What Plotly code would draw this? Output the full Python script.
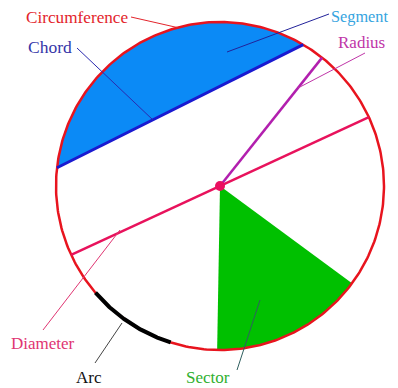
import numpy as np
import plotly.graph_objects as go

# ---- data (angles in degrees, radius units) ----
circle_radius = 1.0
chord_angles = [59.5, 173.6]        # chord endpoints; segment lies between them
sector_angles = [-91.0, -36.4]      # sector from/to
diameter_angle = [24.8, 204.8]
radius_angle = [51.5]
arc_angles = [220.6, 252.5]
circumference_label_angle = [105.0]

label_texts = ["Circumference", "Chord", "Segment", "Radius", "Diameter", "Arc", "Sector"]
label_colors = ["#e3242b", "#3535a8", "#35a4e0", "#c036a8", "#e03572", "#111111", "#30b030"]
label_sizes = [17.2, 17.5, 16.3, 17, 17, 17, 17]

# pixel layout helpers (reference pixel coords; page body has an 8px margin)
OFF = 8
W, H = 398 - OFF, 388 - OFF
CX, CY, S = 220.0, 186.0, 164.0


def px(x, y):
    return (x - CX) / S, (CY - y) / S


def pt(a, r=circle_radius):
    t = np.deg2rad(a)
    return r * np.cos(t), r * np.sin(t)


def arc_pts(a0, a1, n=200):
    t = np.deg2rad(np.linspace(a0, a1, n))
    return circle_radius * np.cos(t), circle_radius * np.sin(t)


fig = go.Figure()

# Segment fill
sx, sy = arc_pts(chord_angles[0], chord_angles[1])
fig.add_trace(go.Scatter(x=np.append(sx, sx[0]), y=np.append(sy, sy[0]), mode="lines",
                         fill="toself", fillcolor="#0b8af6", line=dict(width=0),
                         hoverinfo="skip"))
# Sector fill
ax_, ay_ = arc_pts(sector_angles[0], sector_angles[1])
fig.add_trace(go.Scatter(x=np.concatenate([[0], ax_, [0]]), y=np.concatenate([[0], ay_, [0]]),
                         mode="lines", fill="toself", fillcolor="#00c000",
                         line=dict(width=0), hoverinfo="skip"))
# Circumference
cx_, cy_ = arc_pts(0, 360, 400)
fig.add_trace(go.Scatter(x=cx_, y=cy_, mode="lines", line=dict(color="#e8141e", width=2.5),
                         hoverinfo="skip"))
# Chord
c0, c1 = pt(chord_angles[0]), pt(chord_angles[1])
fig.add_trace(go.Scatter(x=[c0[0], c1[0]], y=[c0[1], c1[1]], mode="lines",
                         line=dict(color="#1a1ad0", width=3), hoverinfo="skip"))
# Diameter
d0, d1 = pt(diameter_angle[0]), pt(diameter_angle[1])
fig.add_trace(go.Scatter(x=[d0[0], d1[0]], y=[d0[1], d1[1]], mode="lines",
                         line=dict(color="#e8125c", width=2.5), hoverinfo="skip"))
# Radius
r0 = pt(radius_angle[0])
fig.add_trace(go.Scatter(x=[0, r0[0]], y=[0, r0[1]], mode="lines",
                         line=dict(color="#b21fae", width=2.5), hoverinfo="skip"))
# Arc
bx, by = arc_pts(arc_angles[0], arc_angles[1])
fig.add_trace(go.Scatter(x=bx, y=by, mode="lines", line=dict(color="black", width=4),
                         hoverinfo="skip"))
# Centre dot
fig.add_trace(go.Scatter(x=[0], y=[0], mode="markers",
                         marker=dict(color="#ea1060", size=10), hoverinfo="skip"))

# Labels: (text centre in px, leader start px, leader end px)
ce = pt(circumference_label_angle[0])
ce_px = (CX + ce[0] * S, CY - ce[1] * S)
label_pos = [(77, 17), (50, 47), (359, 16), (361, 42), (43, 343), (89, 377), (208, 377)]
leaders = [((131, 17), ce_px), ((77, 48), (153, 120)), ((329, 14), (227, 52)),
           ((365, 53), (298, 88)), ((43, 330), (120, 230)), ((95, 363), (122, 323)),
           ((237, 370), (260, 300))]
leader_colors = ["#e3242b", "#2a2ab0", "#22229a", "#c036a8", "#e03572", "#444444", "#2f5f5f"]

for (p0, p1), col in zip(leaders, leader_colors):
    a = px(*p0)
    b = px(*p1)
    fig.add_trace(go.Scatter(x=[a[0], b[0]], y=[a[1], b[1]], mode="lines",
                             line=dict(color=col, width=1), hoverinfo="skip"))

for txt, col, sz, (lx, ly) in zip(label_texts, label_colors, label_sizes, label_pos):
    x, y = px(lx, ly)
    fig.add_annotation(x=x, y=y, text=txt, showarrow=False, xanchor="center", yanchor="middle",
                       font=dict(family="Liberation Serif", size=sz, color=col))

# visible figure area covers reference pixels OFF..OFF+W, OFF..OFF+H
x0, _ = px(OFF, 0)
x1, _ = px(OFF + W, 0)
_, y0 = px(0, OFF + H)
_, y1 = px(0, OFF)
fig.update_layout(width=W, height=H, margin=dict(l=0, r=0, t=0, b=0),
                  paper_bgcolor="white", plot_bgcolor="white", showlegend=False,
                  xaxis=dict(range=[x0, x1], visible=False, fixedrange=True),
                  yaxis=dict(range=[y0, y1], visible=False, fixedrange=True))

fig.write_html("out.html")
